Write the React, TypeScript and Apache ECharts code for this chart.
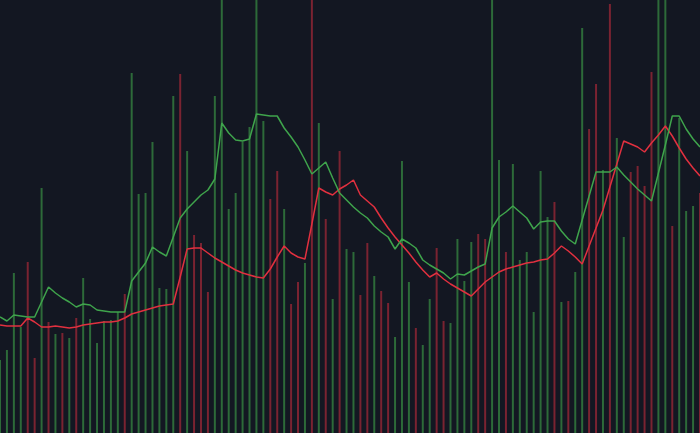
import React, { useEffect, useRef } from "react";
import * as echarts from "echarts";

// Volume histogram (height units), one per bar
const volumes: number[] = [
  73, 83, 160, 106, 171, 75, 245, 111, 99, 100,
  95, 115, 155, 114, 90, 112, 113, 121, 139, 360,
  239, 240, 291, 145, 144, 337, 359, 282, 198, 190,
  141, 337, 480, 224, 240, 291, 306, 470, 312, 234,
  262, 224, 129, 151, 170, 460, 310, 214, 134, 282,
  184, 181, 138, 190, 157, 142, 130, 96, 272, 151,
  105, 88, 134, 185, 112, 110, 194, 152, 191, 199,
  194, 500, 273, 181, 269, 173, 181, 121, 262, 216,
  231, 131, 132, 161, 405, 304, 349, 263, 429, 295,
  196, 261, 267, 247, 361, 490, 470, 207, 315, 222,
  227, 240,
];

// u = up (green), d = down (red)
const barDirs: string[] = [
  "u", "u", "u", "u", "d", "d", "u", "d", "u", "d",
  "u", "d", "u", "u", "u", "u", "u", "u", "d", "u",
  "u", "u", "u", "u", "u", "u", "d", "u", "d", "d",
  "d", "u", "u", "u", "u", "u", "u", "u", "u", "d",
  "d", "u", "d", "d", "u", "d", "u", "d", "u", "d",
  "u", "u", "d", "d", "u", "d", "d", "u", "u", "u",
  "d", "u", "u", "d", "d", "u", "u", "u", "u", "d",
  "d", "u", "u", "d", "u", "u", "u", "u", "u", "u",
  "d", "u", "d", "u", "u", "d", "d", "u", "d", "u",
  "u", "d", "d", "d", "d", "u", "u", "d", "u", "u",
  "u", "d",
];

// Fast moving average (green)
const fastLine: number[] = [
  116, 112, 118, 117, 116, 116, 131, 146, 140, 135,
  131, 126, 129, 128, 123, 122, 121, 121, 121, 152,
  161, 170, 186, 181, 177, 196, 215, 224, 231, 238,
  243, 254, 310, 300, 293, 292, 294, 319, 318, 317,
  317, 305, 296, 286, 273, 259, 265, 271, 255, 240,
  233, 226, 220, 215, 207, 201, 196, 184, 194, 190,
  185, 173, 168, 164, 160, 154, 159, 158, 162, 166,
  169, 205, 216, 221, 227, 221, 215, 204, 211, 212,
  212, 202, 194, 189, 213, 237, 261, 261, 261, 266,
  258, 251, 244, 238, 232, 260, 288, 317, 317, 304,
  294, 286,
];

// Slow moving average (red)
const slowLine: number[] = [
  108, 107, 107, 107, 115, 111, 106, 106, 107, 106,
  105, 106, 108, 109, 110, 111, 111, 112, 115, 119,
  121, 123, 125, 127, 128, 129, 156, 184, 185, 185,
  180, 175, 171, 167, 163, 160, 158, 156, 155, 164,
  176, 187, 180, 176, 174, 209, 245, 241, 238, 244,
  248, 253, 238, 232, 226, 215, 205, 196, 188, 180,
  171, 163, 156, 160, 154, 149, 145, 141, 137, 144,
  151, 156, 161, 164, 166, 168, 170, 171, 173, 174,
  180, 187, 182, 176, 169, 187, 205, 223, 246, 269,
  292, 289, 286, 281, 290, 298, 307, 297, 285, 274,
  265, 257,
];

const categories: string[] = volumes.map((_, i) => String(i + 1));

const BG = "#131722";
const UP_BAR = "#2d6a39";
const DOWN_BAR = "#7a2331";
const UP_LINE = "#3fa44c";
const DOWN_LINE = "#e1303f";

export default function App() {
  const ref = useRef<HTMLDivElement>(null);
  useEffect(() => {
    if (!ref.current) return;
    const chart = echarts.init(ref.current, undefined, { renderer: "svg" });
    chart.setOption({
      animation: false,
      backgroundColor: BG,
      grid: { left: 0, right: -4, top: 0, bottom: 0, containLabel: false },
      xAxis: {
        type: "category",
        data: categories,
        boundaryGap: false,
        show: false,
      },
      yAxis: [
        { type: "value", min: 0, max: 433, show: false, splitLine: { show: false } },
        { type: "value", min: 0, max: 433, show: false, splitLine: { show: false } },
      ],
      series: [
        {
          type: "bar",
          yAxisIndex: 0,
          barWidth: 2,
          clip: true,
          data: volumes.map((v, i) => ({
            value: v,
            itemStyle: { color: barDirs[i] === "u" ? UP_BAR : DOWN_BAR },
          })),
        },
        {
          type: "line",
          yAxisIndex: 1,
          data: slowLine,
          symbol: "none",
          lineStyle: { color: DOWN_LINE, width: 1.5 },
          z: 3,
        },
        {
          type: "line",
          yAxisIndex: 1,
          data: fastLine,
          symbol: "none",
          lineStyle: { color: UP_LINE, width: 1.5 },
          z: 4,
        },
      ],
    });
    return () => chart.dispose();
  }, []);
  return (
    <div
      ref={ref}
      style={{ position: "fixed", left: 0, top: 0, width: 700, height: 433 }}
    />
  );
}
